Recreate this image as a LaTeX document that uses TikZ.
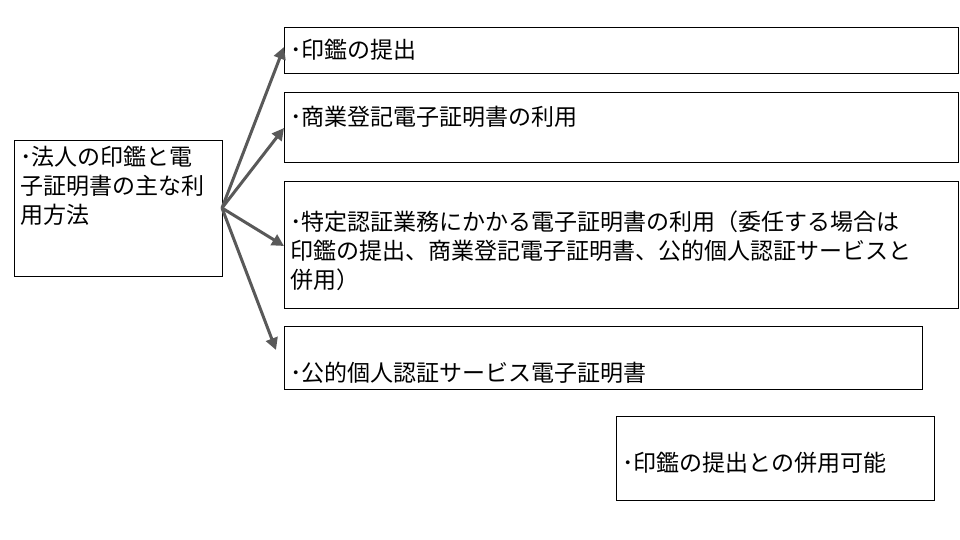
\documentclass[tikz,border=0pt]{standalone}
\usepackage{fontspec}
\setmainfont{Noto Sans CJK JP}
\usetikzlibrary{arrows.meta}
\begin{document}
\begin{tikzpicture}[x=1pt,y=-1pt,
  box/.style={draw=black,line width=0.8pt},
  txt/.style={anchor=west,font=\fontsize{23}{29}\selectfont,inner sep=0},
  arr/.style={draw=black!65,line width=3pt,-{Triangle[length=12pt,width=12pt]}}]
\useasboundingbox (0,0) rectangle (960,540);
\draw[box] (14,140) rectangle (222,276);
\draw[box] (284,27) rectangle (958,73);
\draw[box] (284,92) rectangle (958,162);
\draw[box] (284,181) rectangle (958,308);
\draw[box] (284,326) rectangle (922,389);
\draw[box] (616,416) rectangle (934,500);
\node[txt,anchor=north west,align=left] (l) at (20,146) {･法人の印鑑と電\\子証明書の主な利\\用方法};
\node[txt] (t1) at (290,50) {･印鑑の提出};
\node[txt] (t2) at (290,117) {･商業登記電子証明書の利用};
\node[txt,anchor=west,align=left] (t3) at (290,251) {･特定認証業務にかかる電子証明書の利用（委任する場合は\\印鑑の提出、商業登記電子証明書、公的個人認証サービスと\\併用）};
\node[txt] (t4) at (290,373) {･公的個人認証サービス電子証明書};
\node[txt] (t5) at (622,463) {･印鑑の提出との併用可能};
\coordinate (s) at (222,208);
\coordinate (e1) at (284,47);
\coordinate (e2) at (284,128);
\coordinate (e3) at (284,246);
\coordinate (e4) at (276,350);
\draw[arr] (s) -- (e1);
\draw[arr] (s) -- (e2);
\draw[arr] (s) -- (e3);
\draw[arr] (s) -- (e4);
\end{tikzpicture}
\end{document}
